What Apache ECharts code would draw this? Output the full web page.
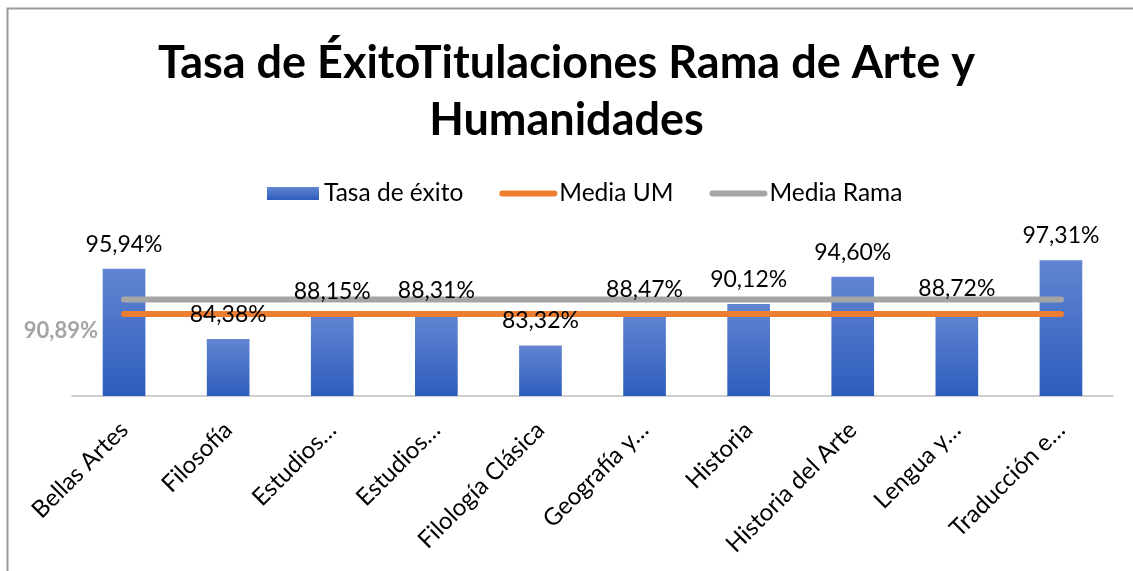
<!DOCTYPE html>
<html>
<head>
<meta charset="utf-8">
<script src="https://cdn.jsdelivr.net/npm/echarts@6/dist/echarts.min.js"></script>
<style>
  html, body { margin: 0; padding: 0; background: #fff; }
  #main { width: 1133px; height: 571px; }
</style>
</head>
<body>
<div id="main"></div>
<script>
// datos
var categorias = ["Bellas Artes", "Filosofía", "Estudios…", "Estudios…", "Filología Clásica",
  "Geografía y…", "Historia", "Historia del Arte", "Lengua y…", "Traducción e…"];
var tasaExito = [95.94, 84.38, 88.15, 88.31, 83.32, 88.47, 90.12, 94.60, 88.72, 97.31];
var mediaUM = [88.5, 88.5, 88.5, 88.5, 88.5, 88.5, 88.5, 88.5, 88.5, 88.5];
var mediaRama = [90.89, 90.89, 90.89, 90.89, 90.89, 90.89, 90.89, 90.89, 90.89, 90.89];

var fuente = "Lato, 'Open Sans', sans-serif";

function pct(v) {
  return v.toFixed(2).replace(".", ",") + "%";
}

var myChart = echarts.init(document.getElementById("main"));

var option = {
  backgroundColor: "#fff",
  textStyle: { fontFamily: fuente },
  title: {
    text: "Tasa de ÉxitoTitulaciones Rama de Arte y\nHumanidades",
    left: "center",
    top: 30,
    textStyle: {
      fontFamily: fuente,
      fontSize: 45,
      fontWeight: "bold",
      color: "#000",
      lineHeight: 57
    }
  },
  legend: {
    top: 176,
    left: 262,
    itemWidth: 52,
    itemHeight: 13,
    itemGap: 36,
    textStyle: { fontFamily: fuente, fontSize: 24.5, color: "#000" },
    data: [
      { name: "Tasa de éxito", icon: "rect" },
      { name: "Media UM", itemStyle: { opacity: 0 }, lineStyle: { width: 6, cap: "round" } },
      { name: "Media Rama", itemStyle: { opacity: 0 }, lineStyle: { width: 6, cap: "round" } }
    ]
  },
  graphic: [
    {
      type: "rect",
      shape: { x: 7.5, y: 8.5, width: 1300, height: 700 },
      style: { fill: null, stroke: "#9a9a9a", lineWidth: 2 },
      silent: true
    }
  ],
  grid: {
    left: 72,
    right: 20,
    top: 244,
    bottom: 175,
    containLabel: false
  },
  xAxis: {
    type: "category",
    data: categorias,
    axisLine: { lineStyle: { color: "#bfbfbf", width: 1.5 } },
    axisTick: { show: false },
    axisLabel: {
      rotate: 45,
      interval: 0,
      margin: 30,
      fontFamily: fuente,
      fontSize: 24,
      color: "#000"
    }
  },
  yAxis: {
    type: "value",
    min: 75,
    max: 100,
    show: false,
    splitLine: { show: false }
  },
  series: [
    {
      name: "Tasa de éxito",
      type: "bar",
      data: tasaExito,
      barCategoryGap: "59%",
      z: 2,
      itemStyle: {
        color: new echarts.graphic.LinearGradient(0, 0, 0, 1, [
          { offset: 0, color: "#6185d1" },
          { offset: 1, color: "#2d5dbd" }
        ])
      }
    },
    {
      name: "Media UM",
      type: "line",
      data: mediaUM,
      symbol: "none",
      lineStyle: { color: "#ed7d31", width: 6, cap: "round" },
      itemStyle: { color: "#ed7d31" },
      z: 3
    },
    {
      name: "Media Rama",
      type: "line",
      data: mediaRama,
      symbol: "none",
      lineStyle: { color: "#a5a5a5", width: 6, cap: "round" },
      itemStyle: { color: "#a5a5a5" },
      markPoint: {
        symbol: "circle",
        symbolSize: 0,
        data: [{ coord: [0, mediaRama[0]], value: mediaRama[0] }],
        label: {
          show: true,
          position: "left",
          distance: 26,
          offset: [0, 32],
          fontFamily: fuente,
          fontSize: 22,
          fontWeight: "bold",
          color: "#a5a5a5",
          formatter: function (p) { return pct(p.value); }
        }
      },
      z: 3
    },
    {
      // etiquetas de las barras por encima de las líneas
      name: "etiquetas",
      type: "bar",
      data: tasaExito,
      barCategoryGap: "59%",
      barGap: "-100%",
      z: 4,
      silent: true,
      itemStyle: { color: "rgba(0,0,0,0)" },
      label: {
        show: true,
        position: "top",
        distance: 13,
        fontFamily: fuente,
        fontSize: 23,
        color: "#000",
        formatter: function (p) { return pct(p.value); }
      }
    }
  ]
};

myChart.setOption(option);
</script>
</body>
</html>
